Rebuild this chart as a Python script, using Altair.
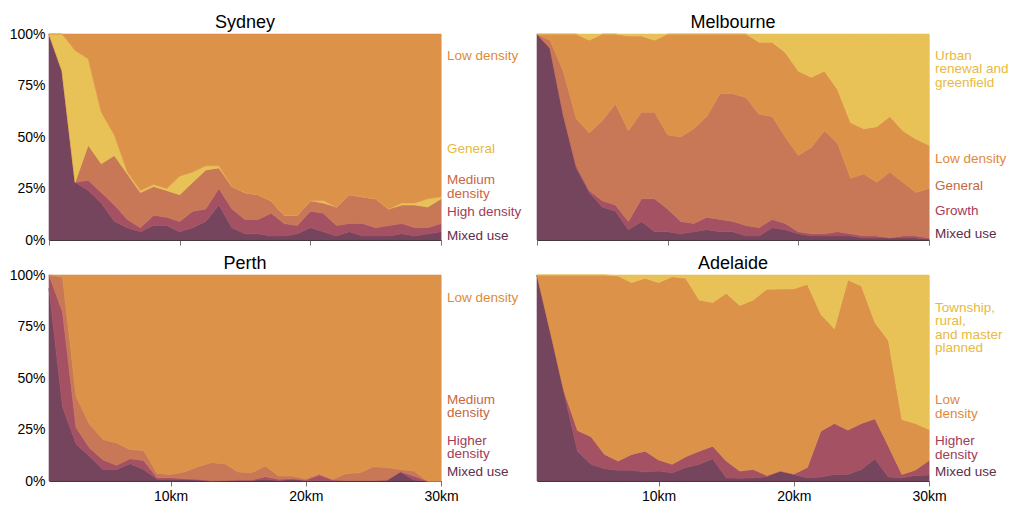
import altair as alt
import pandas as pd

# ---------------- data (shares in %) ----------------
X_TOP = list(range(0, 31))      # km, Sydney & Melbourne
X_BOTTOM = list(range(1, 31))   # km, Perth & Adelaide

# Sydney
syd_mixed = [100, 82, 28, 24, 18, 9, 6, 4, 7, 7, 4, 6, 9, 17, 6, 3, 3, 2, 2, 3, 6, 4, 2, 4, 2, 2, 2, 3, 2, 3, 4]
syd_high = [0, 0, 0, 5, 5, 8, 4, 2, 5, 4, 5, 8, 6, 8, 9, 7, 7, 11, 6, 4, 8, 9, 5, 4, 6, 4, 5, 5, 4, 3, 4]
syd_medium = [0, 0, 0, 17, 14, 24, 22, 17, 14, 13, 13, 14, 19, 10, 11, 13, 12, 6, 4, 5, 5, 5, 9, 14, 13, 14, 8, 9, 11, 10, 12]
syd_general = [0, 18, 64, 42, 25, 10, 1, 1, 1, 1, 9, 5, 2, 1, 0, 0, 0, 0, 0, 0, 0, 1, 0, 0, 0, 0, 0, 1, 1, 4, 1]
syd_low = [0, 0, 8, 12, 38, 49, 67, 76, 73, 75, 69, 67, 64, 64, 74, 77, 78, 81, 88, 88, 81, 81, 84, 78, 79, 80, 85, 82, 82, 80, 79]

# Melbourne
mel_mixed = [100, 93, 61, 35, 23, 16, 14, 5, 9, 4, 4, 3, 4, 5, 4, 4, 2, 2, 6, 5, 3, 2, 2, 2, 2, 1, 1, 1, 1, 1, 0.5]
mel_growth = [0, 0, 0, 1, 1, 3, 3, 4, 11, 16, 11, 6, 4, 6, 6, 5, 5, 4, 4, 3, 1, 1, 1, 2, 1, 1, 1, 0, 1, 1, 0.5]
mel_general = [0, 4, 21, 23, 28, 39, 49, 44, 42, 42, 36, 41, 46, 49, 61, 62, 62, 55, 50, 42, 37, 42, 50, 43, 27, 30, 26, 32, 26, 21, 24]
mel_low = [0, 3, 18, 41, 45, 42, 34, 46, 37, 35, 49, 50, 46, 40, 29, 29, 31, 35, 36, 41, 41, 34, 29, 26, 27, 22, 27, 27, 25, 26, 21]
mel_urban = [0, 0, 0, 0, 3, 0, 0, 1, 1, 3, 0, 0, 0, 0, 0, 0, 0, 4, 4, 9, 18, 21, 18, 27, 43, 46, 45, 40, 47, 51, 54]

# Perth
per_mixed = [93.5, 36, 18, 12, 5.6, 5.6, 8.4, 5.6, 0.8, 0.8, 0.8, 0.5, 0, 0.2, 0.3, 0.3, 0.8, 0.3, 0.8, 0.2, 0.3, 0.2, 0.2, 0.2, 0.2, 0.3, 4.4, 0.5, 0, 0]
per_higher = [6.5, 46, 8, 4, 4.6, 2, 2.4, 4.4, 0.8, 0.8, 0.3, 0.3, 0.3, 0.1, 0.2, 0.2, 1.3, 0.5, 0.3, 0.3, 2.6, 0.3, 0.1, 0.1, 0.1, 0.2, 0.1, 1.9, 0, 0]
per_medium = [0, 17, 15, 11.5, 10, 10.9, 4.5, 4.8, 2.1, 1.6, 3.3, 6.1, 8.6, 8.1, 3.9, 3.5, 5.2, 1.6, 1.3, 0.6, 0.6, 0.3, 3.4, 3.7, 6.6, 6, 1.1, 2.4, 0, 0]
per_low = [0, 1, 59, 72.5, 79.8, 81.5, 84.7, 85.2, 96.3, 96.8, 95.6, 93.1, 91.1, 91.6, 95.6, 96, 92.7, 97.6, 97.6, 98.9, 96.5, 99.2, 96.3, 96, 93.1, 93.5, 94.4, 95.2, 100, 100]

# Adelaide
ade_mixed = [100, 72, 42.7, 14.5, 8.1, 6, 5.2, 5.2, 4.4, 4.8, 4, 6.5, 8.1, 10.8, 1.6, 1.3, 1.6, 2.1, 4.8, 3.2, 1.6, 1.9, 3.2, 3.2, 5.6, 10.8, 1.9, 1.6, 2.7, 2.9]
ade_higher = [0, 0, 0.8, 10, 13.4, 6.9, 4.5, 7.7, 10.1, 5.4, 4.1, 5.3, 6.4, 6.1, 8.1, 3.5, 4, 0.6, 0, 0.2, 4.9, 22.3, 24.7, 21.5, 22.3, 19.4, 15, 1.6, 2.6, 7.1]
ade_low = [0, 28, 56.5, 75.5, 78.5, 87.1, 89.8, 83.4, 83.9, 86.1, 91.1, 86.6, 73.4, 69.7, 81.4, 80.4, 82.3, 90.4, 88.4, 89.9, 89, 56.8, 46, 72.9, 66.8, 46.7, 51.3, 26.6, 22.6, 15]
ade_township = [0, 0, 0, 0, 0, 0, 0.5, 3.7, 1.6, 3.7, 0.8, 1.6, 12.1, 13.4, 8.9, 14.8, 12.1, 6.9, 6.8, 6.7, 4.5, 19, 26.1, 2.4, 5.3, 23.1, 31.8, 70.2, 72.1, 75]

# category names (bottom to top of the stack) and label text
syd_cats = ["Mixed use", "High density", "Medium\ndensity", "General", "Low density"]
mel_cats = ["Mixed use", "Growth", "General", "Low density", "Urban\nrenewal and\ngreenfield"]
per_cats = ["Mixed use", "Higher\ndensity", "Medium\ndensity", "Low density"]
ade_cats = ["Mixed use", "Higher\ndensity", "Low\ndensity", "Township,\nrural,\nand master\nplanned"]

# label anchor heights (share of the axis, 0-1)
syd_label_y = [0.02, 0.136, 0.289, 0.442, 0.893]
mel_label_y = [0.029, 0.141, 0.264, 0.393, 0.893]
per_label_y = [0.044, 0.194, 0.393, 0.889]
ade_label_y = [0.042, 0.193, 0.391, 0.839]

# ---------------- styles ----------------
F_MIX, F_HIGH, F_MED, F_LOW, F_GEN = "#75455d", "#a45163", "#c87757", "#dd924a", "#e8c256"
T_MIX, T_HIGH, T_MED, T_LOW, T_GEN = "#5f2d4d", "#a23c58", "#c8673f", "#e0893b", "#e8b93d"
FONT = "Liberation Sans"
W, H = 392, 206


def panel(title, xs, cats, series, fills, tcolors, label_y, top, left):
    rows = []
    for i, (cat, vals) in enumerate(zip(cats, series)):
        for x, v in zip(xs, vals):
            rows.append({"x": x, "cat": cat, "order": i, "value": v, "fill": fills[i]})
    df = pd.DataFrame(rows)

    xaxis = alt.Axis(
        values=[0, 10, 20, 30] if top else [10, 20, 30],
        labels=not top,
        labelExpr="datum.value + 'km'",
        grid=False, domainColor="#333333", domainWidth=1,
        tickColor="#777777", tickSize=5, labelFontSize=14, labelColor="#000000",
        labelPadding=3, labelFlush=False, title=None, labelFont=FONT,
    )
    if left:
        yaxis = alt.Axis(values=[0, 0.25, 0.5, 0.75, 1], format=".0%", domain=False,
                         ticks=False, grid=False, labelPadding=4, labelFontSize=14,
                         labelColor="#000000", labelFlush=False, title=None, labelFont=FONT)
    else:
        yaxis = None

    xscale = alt.Scale(domain=[xs[0], 30], nice=False, zero=False)
    yscale = alt.Scale(domain=[0, 1])

    area = alt.Chart(df).mark_area(strokeWidth=0.6).encode(
        x=alt.X("x:Q", scale=xscale, axis=xaxis),
        y=alt.Y("value:Q", stack="normalize", scale=yscale, axis=yaxis),
        color=alt.Color("fill:N", scale=None),
        stroke=alt.Stroke("fill:N", scale=None),
        detail="cat:N",
        order=alt.Order("order:Q"),
    )

    ldf = pd.DataFrame({
        "label": cats,
        "ly": label_y,
        "lx": [xs[-1]] * len(cats),
        "tc": tcolors,
    })
    text = alt.Chart(ldf).mark_text(
        align="left", baseline="middle", fontSize=13.5, lineBreak="\n",
        lineHeight=13.3, dx=6, font=FONT,
    ).encode(
        x=alt.X("lx:Q", scale=xscale, axis=xaxis),
        y=alt.Y("ly:Q", scale=yscale, axis=yaxis),
        text="label:N",
        color=alt.Color("tc:N", scale=None),
    )

    return alt.layer(area, text).properties(
        width=W, height=H,
        title=alt.TitleParams(text=title, fontSize=18, fontWeight="normal", font=FONT,
                              color="#000000", anchor="middle", frame="group",
                              offset=1, dy=6 if left else 0),
    )


syd = panel("Sydney", X_TOP, syd_cats,
            [syd_mixed, syd_high, syd_medium, syd_general, syd_low],
            [F_MIX, F_HIGH, F_MED, F_GEN, F_LOW], [T_MIX, T_HIGH, T_MED, T_GEN, T_LOW],
            syd_label_y, top=True, left=True)
mel = panel("Melbourne", X_TOP, mel_cats,
            [mel_mixed, mel_growth, mel_general, mel_low, mel_urban],
            [F_MIX, F_HIGH, F_MED, F_LOW, F_GEN], [T_MIX, T_HIGH, T_MED, T_LOW, T_GEN],
            mel_label_y, top=True, left=False)
per = panel("Perth", X_BOTTOM, per_cats,
            [per_mixed, per_higher, per_medium, per_low],
            [F_MIX, F_HIGH, F_MED, F_LOW], [T_MIX, T_HIGH, T_MED, T_LOW],
            per_label_y, top=False, left=True)
ade = panel("Adelaide", X_BOTTOM, ade_cats,
            [ade_mixed, ade_higher, ade_low, ade_township],
            [F_MIX, F_HIGH, F_LOW, F_GEN], [T_MIX, T_HIGH, T_LOW, T_GEN],
            ade_label_y, top=False, left=False)

chart = alt.concat(
    syd, mel, per, ade, columns=2,
    spacing={"row": 35, "column": 96}, bounds="flush",
).properties(
    padding={"left": 0, "top": 5, "right": 5, "bottom": 0},
).configure_view(stroke=None).configure(font=FONT)

chart.save("out.html", embed_options={"renderer": "svg", "actions": False})
